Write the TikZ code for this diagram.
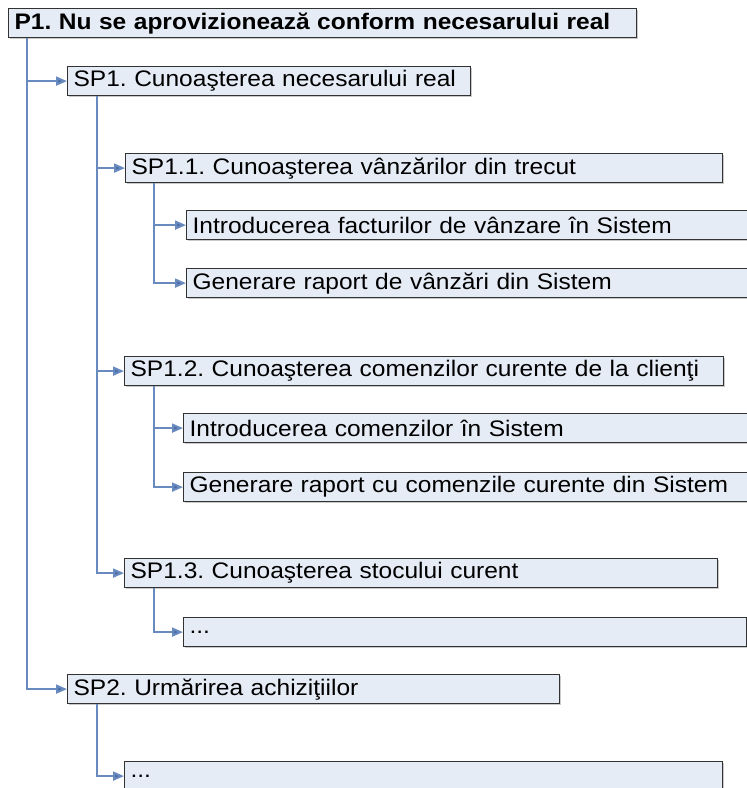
\documentclass[tikz,border=0pt]{standalone}
\usepackage{fontspec}
\setmainfont[FakeStretch=1.09]{Liberation Sans}
\usepackage{tikz}
\usetikzlibrary{arrows.meta,shadows}

\definecolor{barfill}{RGB}{230,236,246}
\definecolor{barline}{RGB}{50,50,50}
\definecolor{linkblue}{RGB}{104,138,190}
\definecolor{tipblue}{RGB}{75,108,165}
\frenchspacing

\begin{document}
\begin{tikzpicture}[x=1pt, y=-1pt,
    every node/.style={font=\fontsize{22.5}{24}\selectfont},
    bar/.style={draw=barline, fill=barfill, line width=1.2pt,
        anchor=north west, minimum height=29pt, inner xsep=6pt, inner ysep=0pt,
        text width=#1, align=left,
        drop shadow={shadow xshift=1.2pt, shadow yshift=-1.2pt, fill=black!35, opacity=0.6}},
    link/.style={-{Triangle[length=11pt,width=9pt,fill=tipblue]}, draw=linkblue, line width=2pt}
    ]
\useasboundingbox (0,0) rectangle (747,788);
% P1
\node[bar=616pt, font=\fontsize{22.5}{24}\selectfont\bfseries] (p1) at (8,8) {P1. Nu se aprovizionează conform necesarului real};
% SP1
\node[bar=391pt] (sp1) at (67,66) {SP1. Cunoaşterea necesarului real};
\node[bar=585pt] (sp11) at (125,153) {SP1.1. Cunoaşterea vânzărilor din trecut};
\node[bar=563pt] (sp11a) at (186,210) {Introducerea facturilor de vânzare în Sistem};
\node[bar=563pt] (sp11b) at (186,268) {Generare raport de vânzări din Sistem};
\node[bar=587pt] (sp12) at (124,356) {SP1.2. Cunoaşterea comenzilor curente de la clienţi};
\node[bar=568pt] (sp12a) at (183,413) {Introducerea comenzilor în Sistem};
\node[bar=568pt] (sp12b) at (183,472) {Generare raport cu comenzile curente din Sistem};
\node[bar=581pt] (sp13) at (124,558) {SP1.3. Cunoaşterea stocului curent};
\node[bar=551pt] (sp13a) at (183,617) {...};
% SP2
\node[bar=480pt] (sp2) at (67,674) {SP2. Urmărirea achiziţiilor};
\node[bar=586pt] (sp2a) at (124,761) {...};

% links
\draw[link] ([xshift=19pt]p1.south west) |- (sp1.west);
\draw[link] ([xshift=19pt]p1.south west) |- (sp2.west);
\draw[link] ([xshift=30pt]sp1.south west) |- (sp11.west);
\draw[link] ([xshift=30pt]sp1.south west) |- (sp12.west);
\draw[link] ([xshift=30pt]sp1.south west) |- (sp13.west);
\draw[link] ([xshift=29pt]sp11.south west) |- (sp11a.west);
\draw[link] ([xshift=29pt]sp11.south west) |- (sp11b.west);
\draw[link] ([xshift=30pt]sp12.south west) |- (sp12a.west);
\draw[link] ([xshift=30pt]sp12.south west) |- (sp12b.west);
\draw[link] ([xshift=30pt]sp13.south west) |- (sp13a.west);
\draw[link] ([xshift=30pt]sp2.south west) |- (sp2a.west);
\end{tikzpicture}
\end{document}
